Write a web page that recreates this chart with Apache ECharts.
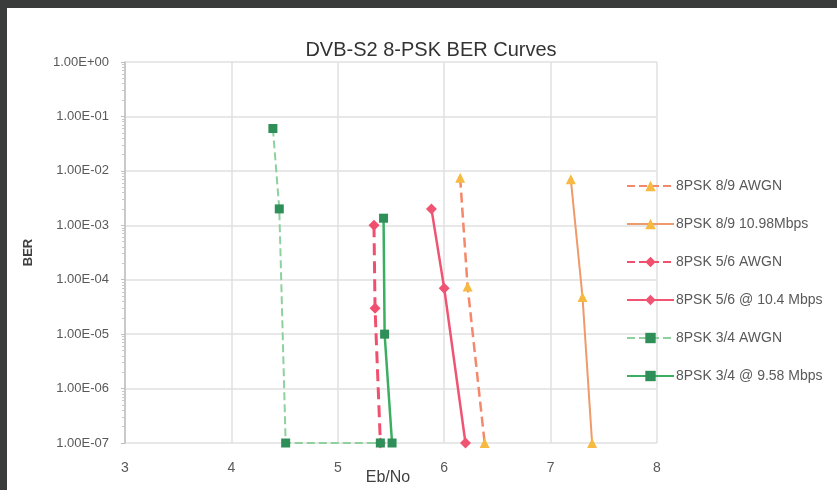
<!DOCTYPE html>
<html>
<head>
<meta charset="utf-8">
<script src="https://cdn.jsdelivr.net/npm/echarts@6/dist/echarts.min.js"></script>
<style>
html,body{margin:0;padding:0;background:#fff;}
#c{width:837px;height:490px;}
</style>
</head>
<body>
<div id="c"></div>
<script>
var titleText = 'DVB-S2 8-PSK BER Curves';
var xTicks = [3, 4, 5, 6, 7, 8];
var yTicks = [1e-7, 1e-6, 1e-5, 1e-4, 1e-3, 1e-2, 1e-1, 1];
var seriesNames = ['8PSK 8/9 AWGN', '8PSK 8/9 10.98Mbps', '8PSK 5/6 AWGN', '8PSK 5/6 @ 10.4 Mbps', '8PSK 3/4 AWGN', '8PSK 3/4 @ 9.58 Mbps'];

var psk89awgnX = [6.15, 6.22, 6.38];
var psk89awgnY = [7.5e-3, 7.5e-5, 1e-7];
var psk89rateX = [7.19, 7.30, 7.39];
var psk89rateY = [7e-3, 4.8e-5, 1e-7];
var psk56awgnX = [5.34, 5.35, 5.40];
var psk56awgnY = [1e-3, 3e-5, 1e-7];
var psk56rateX = [5.88, 6.00, 6.20];
var psk56rateY = [2e-3, 7e-5, 1e-7];
var psk34awgnX = [4.39, 4.45, 4.51, 5.40];
var psk34awgnY = [6e-2, 2e-3, 1e-7, 1e-7];
var psk34rateX = [5.43, 5.44, 5.51];
var psk34rateY = [1.35e-3, 1e-5, 1e-7];

function pairs(xs, ys){ return xs.map(function(x,i){ return [x, ys[i]]; }); }
function fmtE(v){
  var e = Math.round(Math.log10(v));
  var a = Math.abs(e);
  return '1.00E' + (e >= 0 ? '+' : '-') + (a < 10 ? '0' + a : '' + a);
}

var font = "'Liberation Sans Narrow', 'Arial Narrow', 'Liberation Sans', sans-serif";

var styles = [
  {data: pairs(psk89awgnX, psk89awgnY), line: '#f4886a', mark: '#f6b942', type: 'dashed', w: 2.5, sym: 'triangle', size: 10},
  {data: pairs(psk89rateX, psk89rateY), line: '#ef9a6a', mark: '#f6b942', type: 'solid', w: 2, sym: 'triangle', size: 10},
  {data: pairs(psk56awgnX, psk56awgnY), line: '#f0506e', mark: '#f0506e', type: 'dashed', w: 3, sym: 'diamond', size: 11},
  {data: pairs(psk56rateX, psk56rateY), line: '#ef5573', mark: '#ef5573', type: 'solid', w: 2.5, sym: 'diamond', size: 11},
  {data: pairs(psk34awgnX, psk34awgnY), line: '#8fd19e', mark: '#2f8f58', type: 'dashed', w: 2, sym: 'rect', size: 9},
  {data: pairs(psk34rateX, psk34rateY), line: '#3cae62', mark: '#2f8f58', type: 'solid', w: 2.5, sym: 'rect', size: 9}
];

var series = styles.map(function(s, i){
  return {
    name: seriesNames[i],
    type: 'line',
    data: s.data,
    symbol: s.sym,
    symbolSize: s.size,
    showSymbol: true,
    lineStyle: {color: s.line, width: s.w, type: s.type},
    itemStyle: {color: s.mark},
    animation: false
  };
});

var chart = echarts.init(document.getElementById('c'));
chart.setOption({
  backgroundColor: '#ffffff',
  animation: false,
  title: {
    text: titleText,
    left: 426, top: 35, textAlign: 'center',
    textStyle: {fontFamily: font, fontSize: 20, fontWeight: 'normal', color: '#333333'}
  },
  graphic: [
    {type: 'rect', shape: {x: 0, y: 0, width: 837, height: 8}, style: {fill: '#3a3c3b'}, z: 100},
    {type: 'rect', shape: {x: 0, y: 0, width: 7, height: 490}, style: {fill: '#3a3c3b'}, z: 100}
  ],
  grid: {left: 125, top: 62, right: 180, bottom: 47, containLabel: false, outerBoundsMode: 'none'},
  legend: {
    orient: 'vertical',
    left: 626, top: 179, padding: 0,
    itemWidth: 47, itemHeight: 13, itemGap: 24,
    textStyle: {fontFamily: font, fontSize: 14, color: '#595959', padding: [0,0,0,-3]},
    data: seriesNames
  },
  xAxis: {
    type: 'value', min: 3, max: 8, interval: 1,
    name: 'Eb/No', nameLocation: 'middle', nameGap: 27, nameMoveOverlap: false,
    nameTextStyle: {fontFamily: font, fontSize: 16, color: '#404040', padding: [0, 6, 0, 0]},
    axisLine: {show: false},
    axisTick: {show: false},
    axisLabel: {fontFamily: font, fontSize: 14, color: '#595959', margin: 18},
    splitLine: {show: true, lineStyle: {color: '#e0e0e0', width: 1.5}}
  },
  yAxis: {
    type: 'log', logBase: 10, min: 1e-7, max: 1,
    name: 'BER', nameLocation: 'middle', nameGap: 90, nameRotate: 90, nameMoveOverlap: false,
    nameTextStyle: {fontFamily: "'Liberation Sans', sans-serif", fontSize: 13, fontWeight: 'bold', color: '#404040'},
    axisLine: {show: true, lineStyle: {color: '#bfbfbf', width: 1.5}},
    axisTick: {show: true, inside: false, length: 4, lineStyle: {color: '#bfbfbf'}},
    minorTick: {show: true, splitNumber: 9, length: 3, lineStyle: {color: '#c8c8c8'}},
    axisLabel: {fontFamily: font, fontSize: 13, color: '#595959', margin: 16, formatter: fmtE},
    splitLine: {show: true, lineStyle: {color: '#e0e0e0', width: 1.5}}
  },
  series: series
});
</script>
</body>
</html>
